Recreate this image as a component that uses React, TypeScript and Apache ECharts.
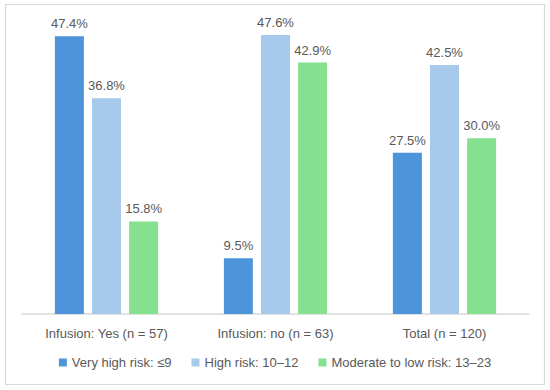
import React, { useEffect, useRef } from "react";
import * as echarts from "echarts";

const categories = ["Infusion: Yes (n = 57)", "Infusion: no (n = 63)", "Total (n = 120)"];
const seriesNames = ["Very high risk: ≤9", "High risk: 10–12", "Moderate to low risk: 13–23"];
const veryHigh = [47.4, 9.5, 27.5];
const high = [36.8, 47.6, 42.5];
const moderateLow = [15.8, 42.9, 30.0];
const colors = ["#4d94db", "#a6c9ec", "#85e08f"];

export default function App() {
  const ref = useRef<HTMLDivElement>(null);
  useEffect(() => {
    if (!ref.current) return;
    const chart = echarts.init(ref.current, undefined, { renderer: "svg" });
    const data = [veryHigh, high, moderateLow];
    chart.setOption({
      animation: false,
      backgroundColor: "#ffffff",
      textStyle: { fontFamily: "Liberation Sans, Arial, sans-serif" },
      graphic: [
        {
          type: "rect",
          shape: { x: 5.5, y: 4.5, width: 539, height: 380 },
          style: { fill: "none", stroke: "#d9d9d9", lineWidth: 1.2 },
          silent: true,
        },
      ],
      grid: { left: 22, right: 21, top: 21, bottom: 76 },
      legend: {
        bottom: 16,
        left: "center",
        itemWidth: 8,
        itemHeight: 8,
        itemGap: 20,
        icon: "rect",
        textStyle: { color: "#595959", fontSize: 13 },
        data: seriesNames,
      },
      xAxis: {
        type: "category",
        data: categories,
        axisLine: { lineStyle: { color: "#d9d9d9", width: 1.5 } },
        axisTick: { show: false },
        axisLabel: { color: "#595959", fontSize: 13, margin: 13 },
      },
      yAxis: {
        type: "value",
        min: 0,
        max: 50,
        show: false,
        splitLine: { show: false },
      },
      series: seriesNames.map((name, i) => ({
        name,
        type: "bar",
        data: data[i],
        barWidth: 29,
        barGap: "28%",
        itemStyle: { color: colors[i] },
        label: {
          show: true,
          position: "top",
          distance: 6,
          color: "#595959",
          fontSize: 13,
          formatter: (p: any) => Number(p.value).toFixed(1) + "%",
        },
      })),
    });
    return () => chart.dispose();
  }, []);
  return <div ref={ref} style={{ width: 550, height: 390, position: "absolute", left: 0, top: 0 }} />;
}
